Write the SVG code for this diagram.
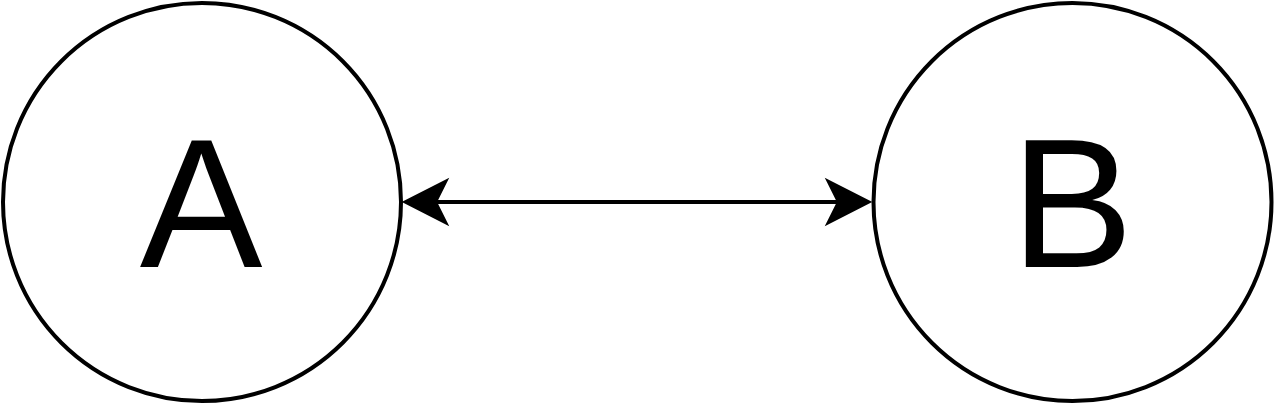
<svg xmlns="http://www.w3.org/2000/svg" width="1275" height="405" viewBox="0 0 1275 405">
<style>
.node{fill:#fff;stroke:#000;stroke-width:4}
.lbl{font-family:"Liberation Sans",Arial,sans-serif;font-size:184px;fill:#000;text-anchor:middle}
.edge{stroke:#000;stroke-width:4;fill:none}
.head{fill:#000;stroke:#000;stroke-width:2}
</style>
<rect width="1275" height="405" fill="#fff"/>
<g id="connectors">
<line class="edge" x1="430" y1="202" x2="845" y2="202"/>
<path class="head" d="M404,202 L447,180 L436,202 L447,224 Z"/>
<path class="head" d="M870,202 L827,180 L838,202 L827,224 Z"/>
</g>
<g id="nodeA">
<circle class="node" cx="202" cy="202" r="199"/>
<text class="lbl" x="201" y="267">A</text>
</g>
<g id="nodeB">
<circle class="node" cx="1072.5" cy="202" r="199"/>
<text class="lbl" x="1072" y="267">B</text>
</g>
</svg>
